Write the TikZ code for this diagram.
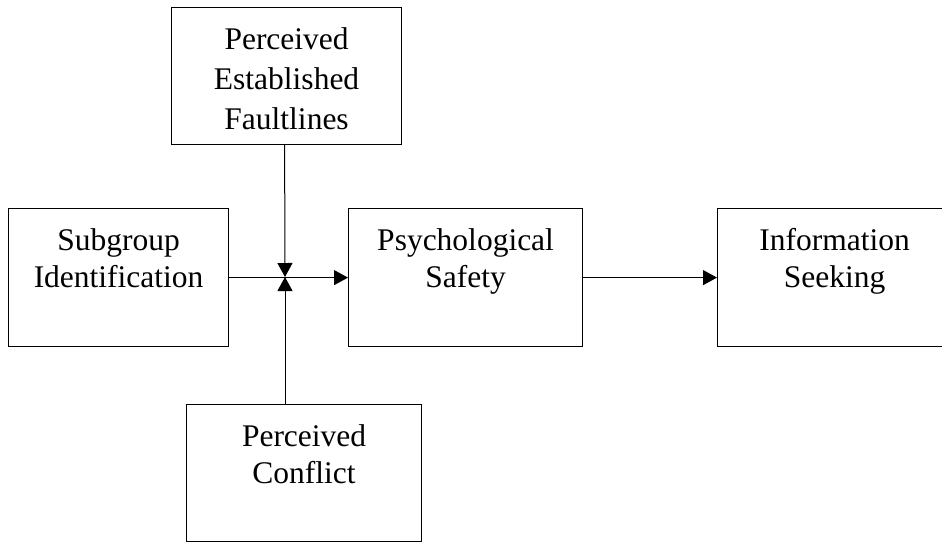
\documentclass[tikz,border=0pt]{standalone}
\usepackage{fontspec}
\setmainfont{Liberation Serif}
\usetikzlibrary{arrows.meta}
\newcommand\bxt[2]{\parbox[t]{#1}{\centering #2}}
\tikzset{
  box/.style={draw, line width=1.2pt, inner sep=0pt, anchor=north west,
    text height=41.5pt, font=\fontsize{31.5}{37.5}\selectfont},
  arr/.style={line width=1pt, -{Triangle[length=14pt,width=15pt]}}
}
\begin{document}
\begin{tikzpicture}[x=1pt,y=-1pt]
\useasboundingbox (0,0) rectangle (942,542);
\clip (0,0) rectangle (942,542);
\node[box, text depth=95.5pt, font=\fontsize{31.5}{40}\selectfont] (fault) at (171,7)
  {\bxt{230pt}{Perceived\\Established\\Faultlines}};
\node[box, text depth=96.5pt] (sub) at (8,208)
  {\bxt{220pt}{Subgroup\\Identification}};
\node[box, text depth=96.5pt] (psy) at (348,208)
  {\bxt{234pt}{Psychological\\Safety}};
\node[box, text depth=96.5pt] (info) at (717,208)
  {\bxt{234pt}{Information\\Seeking}};
\node[box, text depth=95.5pt] (conf) at (186,404)
  {\bxt{235pt}{Perceived\\Conflict}};
\coordinate (J) at (285,277);
\draw[arr] (sub.east) -- (psy.west);
\draw[arr] ([xshift=-2pt]fault.south) -- (J);
\draw[arr] (conf.north -| J) -- (J);
\draw[arr] (psy.east) -- (info.west);
\end{tikzpicture}
\end{document}
